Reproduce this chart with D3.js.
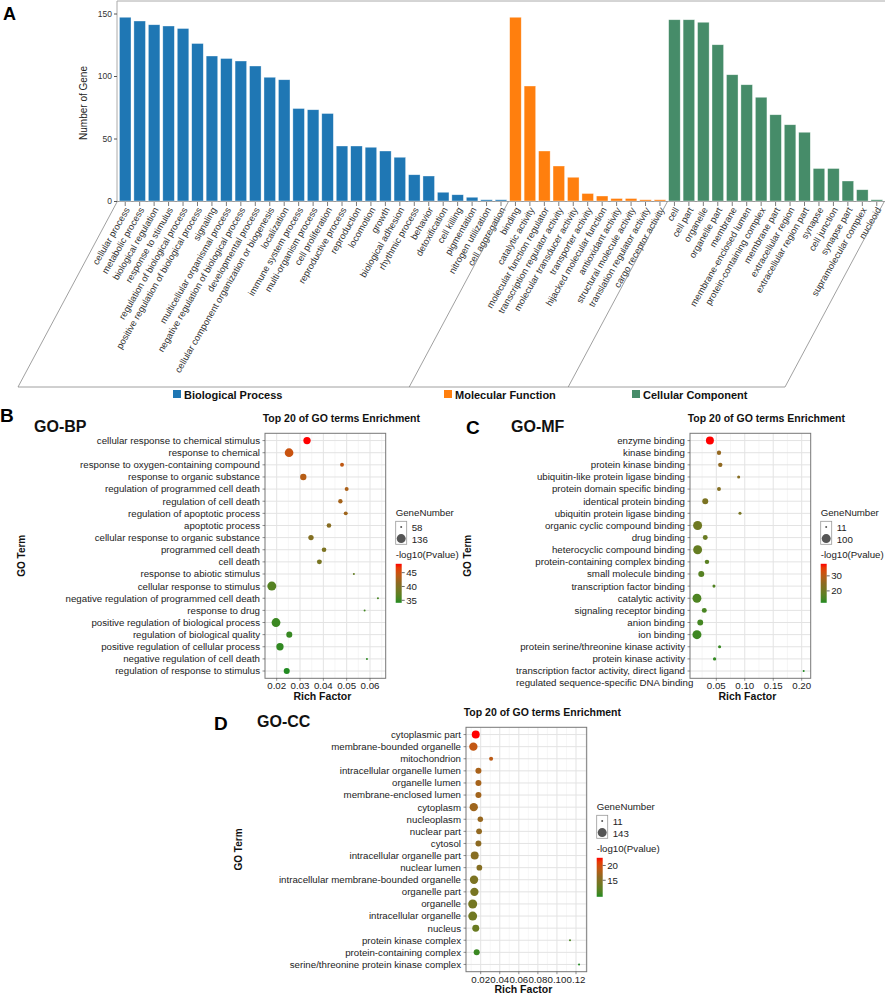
<!DOCTYPE html>
<html>
<head>
<meta charset="utf-8">
<title>GO classification and enrichment</title>
<script src="https://cdn.jsdelivr.net/npm/d3@7/dist/d3.min.js"></script>
<style>
  body { margin: 0; background: #fff; }
  svg { display: block; font-family: "Liberation Sans", Arial, sans-serif; }
</style>
</head>
<body>
<div id="chart"></div>
<script>
// ---- panel A: number of genes per GO category ----
var bpTerms = ["cellular process", "metabolic process", "biological regulation", "response to stimulus",
  "regulation of biological process", "positive regulation of biological process", "signaling",
  "multicellular organismal process", "negative regulation of biological process", "developmental process",
  "cellular component organization or biogenesis", "localization", "immune system process",
  "multi-organism process", "cell proliferation", "reproductive process", "reproduction", "locomotion",
  "growth", "biological adhesion", "rhythmic process", "behavior", "detoxification", "cell killing",
  "pigmentation", "nitrogen utilization", "cell aggregation"];
var bpCounts = [147, 144, 141, 140, 138, 126, 116, 114, 112, 108, 99, 97, 74, 73, 70, 44, 44, 43, 40, 35, 21, 20, 7, 5, 3, 1, 1];

var mfTerms = ["binding", "catalytic activity", "molecular function regulator", "transcription regulator activity",
  "molecular transducer activity", "transporter activity", "hijacked molecular function", "antioxidant activity",
  "structural molecule activity", "translation regulator activity", "cargo receptor activity"];
var mfCounts = [147, 92, 40, 28, 19, 6, 4, 2, 2, 1, 1];

var ccTerms = ["cell", "cell part", "organelle", "organelle part", "membrane", "membrane-enclosed lumen",
  "protein-containing complex", "membrane part", "extracellular region", "extracellular region part",
  "synapse", "cell junction", "synapse part", "supramolecular complex", "nucleoid"];
var ccCounts = [145, 145, 143, 125, 101, 93, 83, 69, 61, 55, 26, 26, 16, 9, 1];

var groupNames = ["Biological Process", "Molecular Function", "Cellular Component"];
var countTicks = [0, 50, 100, 150];

// ---- panel B: GO-BP top 20 ----
var bpTopTerms = ["cellular response to chemical stimulus", "response to chemical",
  "response to oxygen-containing compound", "response to organic substance",
  "regulation of programmed cell death", "regulation of cell death", "regulation of apoptotic process",
  "apoptotic process", "cellular response to organic substance", "programmed cell death", "cell death",
  "response to abiotic stimulus", "cellular response to stimulus",
  "negative regulation of programmed cell death", "response to drug",
  "positive regulation of biological process", "regulation of biological quality",
  "positive regulation of cellular process", "negative regulation of cell death",
  "regulation of response to stimulus"];
var bpRich = [0.0330, 0.0253, 0.0480, 0.0314, 0.0500, 0.0473, 0.0496, 0.0424, 0.0347, 0.0403,
  0.0383, 0.0531, 0.0179, 0.0634, 0.0577, 0.0197, 0.0254, 0.0214, 0.0587, 0.0243];
var bpGenes = [103, 129, 64, 88, 64, 67, 64, 69, 76, 69, 72, 58, 136, 58, 58, 132, 84, 103, 58, 84];
var bpLogP = [48.2, 44.8, 44.2, 43.6, 43.0, 42.6, 42.2, 40.6, 40.2, 39.6, 39.2, 37.4, 36.4, 35.6, 35.3,
  35.0, 34.8, 34.6, 34.4, 34.1];
var bpRichTicks = [0.02, 0.03, 0.04, 0.05, 0.06];
var bpSizeBreaks = [58, 136];
var bpColorTicks = [35, 40, 45];

// ---- panel C: GO-MF top 20 ----
var mfTopTerms = ["enzyme binding", "kinase binding", "protein kinase binding",
  "ubiquitin-like protein ligase binding", "protein domain specific binding", "identical protein binding",
  "ubiquitin protein ligase binding", "organic cyclic compound binding", "drug binding",
  "heterocyclic compound binding", "protein-containing complex binding", "small molecule binding",
  "transcription factor binding", "catalytic activity", "signaling receptor binding", "anion binding",
  "ion binding", "protein serine/threonine kinase activity", "protein kinase activity",
  "transcription factor activity, direct ligand\nregulated sequence-specific DNA binding"];
var mfRich = [0.0388, 0.0547, 0.0570, 0.0893, 0.0547, 0.0306, 0.0916, 0.0172, 0.0306, 0.0172,
  0.0336, 0.0236, 0.0459, 0.0160, 0.0289, 0.0218, 0.0160, 0.0558, 0.0470, 0.2035];
var mfGenes = [76, 21, 21, 13, 18, 40, 13, 100, 27, 98, 22, 40, 13, 97, 27, 38, 100, 13, 14, 11];
var mfLogP = [38.0, 26.0, 25.5, 24.0, 23.5, 22.0, 21.5, 20.0, 19.0, 18.5, 17.0, 16.5, 16.0, 15.5, 15.0,
  14.5, 14.0, 13.5, 13.0, 12.1];
var mfRichTicks = [0.05, 0.10, 0.15, 0.20];
var mfSizeBreaks = [11, 100];
var mfColorTicks = [20, 30];

// ---- panel D: GO-CC top 20 ----
var ccTopTerms = ["cytoplasmic part", "membrane-bounded organelle", "mitochondrion",
  "intracellular organelle lumen", "organelle lumen", "membrane-enclosed lumen", "cytoplasm",
  "nucleoplasm", "nuclear part", "cytosol", "intracellular organelle part", "nuclear lumen",
  "intracellular membrane-bounded organelle", "organelle part", "organelle", "intracellular organelle",
  "nucleus", "protein kinase complex", "protein-containing complex",
  "serine/threonine protein kinase complex"];
var ccRich = [0.0148, 0.0123, 0.0309, 0.0176, 0.0176, 0.0176, 0.0127, 0.0196, 0.0183, 0.0176,
  0.0137, 0.0186, 0.0130, 0.0134, 0.0116, 0.0116, 0.0148, 0.1137, 0.0158, 0.1232];
var ccGenes = [107, 119, 22, 54, 54, 54, 119, 44, 50, 52, 107, 48, 120, 118, 143, 140, 78, 11, 55, 11];
var ccLogP = [22.6, 19.0, 18.6, 17.6, 17.4, 17.2, 17.0, 16.6, 16.3, 16.0, 15.5, 15.3, 14.5, 14.2, 13.8,
  13.5, 13.0, 11.0, 10.2, 9.4];
var ccRichTicks = [0.02, 0.04, 0.06, 0.08, 0.10, 0.12];
var ccSizeBreaks = [11, 143];
var ccColorTicks = [15, 20];

var svg = d3.select("#chart").append("svg")
  .attr("width", 886).attr("height", 995);

// ================= Panel A =================
var groupColors = ["#1F77B4", "#FF7F0E", "#468C69"];
var allTerms = bpTerms.concat(mfTerms, ccTerms);
var allCounts = bpCounts.concat(mfCounts, ccCounts);
var nBP = bpTerms.length, nMF = mfTerms.length;
function groupOf(i) { return i < nBP ? 0 : (i < nBP + nMF ? 1 : 2); }

var xA = d3.scaleBand().domain(allTerms).range([118, 884]).paddingInner(0.2).paddingOuter(0.1);
var yA = d3.scaleLinear().domain([0, 160]).range([201, 1]);
var gA = svg.append("g");

// frame
gA.append("path").attr("d", "M117,202V1H885").attr("fill", "none").attr("stroke", "#aaa").attr("stroke-width", 1);
gA.append("line").attr("x1", 117).attr("x2", 885).attr("y1", 201.5).attr("y2", 201.5)
  .attr("stroke", "#999").attr("stroke-width", 1);

gA.selectAll("rect.bar").data(allCounts).enter().append("rect")
  .attr("class", "bar")
  .attr("x", function(d, i) { return xA(allTerms[i]); })
  .attr("y", function(d) { return yA(d); })
  .attr("width", xA.bandwidth())
  .attr("height", function(d) { return yA(0) - yA(d); })
  .attr("fill", function(d, i) { return groupColors[groupOf(i)]; })
  .attr("stroke", "rgba(255,255,255,0.6)").attr("stroke-width", 0.6);

// y axis
var yAxisA = gA.append("g").attr("transform", "translate(117,0)")
  .call(d3.axisLeft(yA).tickValues(countTicks).tickSize(3).tickPadding(2));
yAxisA.select(".domain").remove();
yAxisA.attr("font-family", null).attr("font-size", 8.5);
yAxisA.selectAll("text").attr("fill", "#333");
yAxisA.selectAll("line").attr("stroke", "#555");

gA.append("text").attr("transform", "translate(87,103) rotate(-90)")
  .attr("text-anchor", "middle").attr("font-size", 10).attr("fill", "#222")
  .text("Number of Gene");

// x ticks and rotated labels
allTerms.forEach(function(t) {
  var cx = xA(t) + xA.bandwidth() / 2;
  gA.append("line").attr("x1", cx).attr("x2", cx).attr("y1", 202).attr("y2", 206)
    .attr("stroke", "#444").attr("stroke-width", 0.7);
  gA.append("text")
    .attr("transform", "translate(" + (cx + 2) + ",208) rotate(-60)")
    .attr("text-anchor", "end").attr("dy", "0.35em")
    .attr("font-size", 9.3).attr("fill", "#333")
    .text(t);
});

// group outline (slanted brackets down to legend)
var step = xA.step();
var bounds = [117, xA(mfTerms[0]) - step * 0.1, xA(ccTerms[0]) - step * 0.1, 884];
bounds.forEach(function(b) {
  gA.append("line").attr("x1", b).attr("y1", 202).attr("x2", b - 99).attr("y2", 387)
    .attr("stroke", "#888").attr("stroke-width", 0.8);
});
gA.append("line").attr("x1", bounds[0] - 99).attr("x2", bounds[3] - 99).attr("y1", 387).attr("y2", 387)
  .attr("stroke", "#888").attr("stroke-width", 0.8);

var legendX = [173, 444, 632];
groupNames.forEach(function(n, i) {
  gA.append("rect").attr("x", legendX[i]).attr("y", 390).attr("width", 8).attr("height", 8)
    .attr("fill", groupColors[i]);
  gA.append("text").attr("x", legendX[i] + 11).attr("y", 398.5)
    .attr("font-size", 11).attr("font-weight", "bold").attr("fill", "#111").text(n);
});

// ================= Dot panels =================
function dotPanel(p) {
  var g = svg.append("g");
  var x0 = p.box[0], y0 = p.box[1], x1 = p.box[2], y1 = p.box[3];
  var x = d3.scaleLinear().domain([p.ticks[0], p.ticks[p.ticks.length - 1]]).range(p.tickPx);
  var y = d3.scalePoint().domain(p.terms).range([y0, y1]).padding(0.6);
  var ext = d3.extent(p.logP);
  var color = d3.scaleLinear().domain([ext[0], (ext[0] + ext[1]) / 2, ext[1]])
    .range(["forestgreen", "#8C6A22", "red"]).interpolate(d3.interpolateLab);
  var norm = d3.scaleLinear().domain(p.sizeBreaks).range([0, 1]).clamp(true);
  var rad = d3.scaleSqrt().domain([0, 1]).range([1, 4.5]);

  g.append("rect").attr("x", x0).attr("y", y0).attr("width", x1 - x0).attr("height", y1 - y0)
    .attr("fill", "#fff");

  // grid
  var st = p.ticks[1] - p.ticks[0];
  var minor = p.ticks.map(function(t) { return t - st / 2; }).concat([p.ticks[p.ticks.length - 1] + st / 2])
    .filter(function(v) { return x(v) > x0 + 0.5 && x(v) < x1 - 0.5; });
  minor.forEach(function(v) {
    g.append("line").attr("x1", x(v)).attr("x2", x(v)).attr("y1", y0).attr("y2", y1)
      .attr("stroke", "#f0f0f0").attr("stroke-width", 0.6);
  });
  p.ticks.forEach(function(v) {
    g.append("line").attr("x1", x(v)).attr("x2", x(v)).attr("y1", y0).attr("y2", y1)
      .attr("stroke", "#e3e3e3").attr("stroke-width", 1);
  });
  p.terms.forEach(function(t) {
    g.append("line").attr("x1", x0).attr("x2", x1).attr("y1", y(t)).attr("y2", y(t))
      .attr("stroke", "#e3e3e3").attr("stroke-width", 1);
  });

  // points
  p.terms.forEach(function(t, i) {
    g.append("circle").attr("cx", x(p.rich[i])).attr("cy", y(t))
      .attr("r", rad(norm(p.genes[i])))
      .attr("fill", color(p.logP[i]));
  });

  g.append("rect").attr("x", x0).attr("y", y0).attr("width", x1 - x0).attr("height", y1 - y0)
    .attr("fill", "none").attr("stroke", "#777").attr("stroke-width", 1);

  // y labels
  p.terms.forEach(function(t) {
    g.append("line").attr("x1", x0 - 2.5).attr("x2", x0).attr("y1", y(t)).attr("y2", y(t))
      .attr("stroke", "#444").attr("stroke-width", 0.6);
    var lines = t.split("\n");
    var first = g.append("text").attr("x", x0 - 5).attr("y", y(t)).attr("dy", "0.35em")
      .attr("text-anchor", "end").attr("font-size", 9.7).attr("fill", "#222").text(lines[0]);
    if (lines.length > 1) {
      var left = x0 - 5 - first.node().getComputedTextLength();
      g.append("text").attr("x", left).attr("y", y(t) + 11.8).attr("dy", "0.35em")
        .attr("font-size", 9.7).attr("fill", "#222").text(lines[1]);
    }
  });

  // x ticks
  var fmt = d3.format(".2f");
  p.ticks.forEach(function(v) {
    g.append("line").attr("x1", x(v)).attr("x2", x(v)).attr("y1", y1).attr("y2", y1 + 2.5)
      .attr("stroke", "#444").attr("stroke-width", 0.6);
    g.append("text").attr("x", x(v)).attr("y", y1 + 7.5).attr("dy", "0.35em")
      .attr("text-anchor", "middle").attr("font-size", 9.7).attr("fill", "#222").text(fmt(v));
  });

  var cx = (x0 + x1) / 2;
  g.append("text").attr("x", cx - 3).attr("y", y1 + 21.5).attr("text-anchor", "middle")
    .attr("font-size", 10.5).attr("font-weight", "bold").attr("fill", "#111").text("Rich Factor");
  g.append("text").attr("x", cx + 16).attr("y", y0 - 11).attr("text-anchor", "middle")
    .attr("font-size", 10.5).attr("font-weight", "bold").attr("fill", "#111").text("Top 20 of GO terms Enrichment");
  g.append("text").attr("transform", "translate(" + p.yTitleX + "," + ((y0 + y1) / 2) + ") rotate(-90)")
    .attr("text-anchor", "middle").attr("dy", "0.35em")
    .attr("font-size", 10).attr("font-weight", "bold").attr("fill", "#111").text("GO Term");

  // legends
  var lx = x1 + 10;
  g.append("text").attr("x", lx).attr("y", y0 + 79.5).attr("dy", "0.35em")
    .attr("font-size", 9.7).attr("fill", "#222").text("GeneNumber");
  g.append("rect").attr("x", lx).attr("y", y0 + 88).attr("width", 11).attr("height", 23)
    .attr("fill", "#fff").attr("stroke", "#999").attr("stroke-width", 0.8);
  p.sizeBreaks.forEach(function(b, k) {
    var cy = y0 + 93.7 + k * 11.6;
    g.append("circle").attr("cx", lx + 5.5).attr("cy", cy).attr("r", rad(norm(b))).attr("fill", "#555");
    g.append("text").attr("x", lx + 16).attr("y", cy + 1).attr("dy", "0.35em")
      .attr("font-size", 9.7).attr("fill", "#222").text(b);
  });
  g.append("text").attr("x", lx).attr("y", y0 + 121.5).attr("dy", "0.35em")
    .attr("font-size", 9.7).attr("fill", "#222").text("-log10(Pvalue)");

  var barTop = y0 + 130.5, barH = 39;
  var gid = "grad" + p.id;
  var grad = svg.append("defs").append("linearGradient").attr("id", gid)
    .attr("x1", 0).attr("y1", 1).attr("x2", 0).attr("y2", 0);
  d3.range(0, 1.0001, 0.1).forEach(function(s) {
    grad.append("stop").attr("offset", s).attr("stop-color", color(ext[0] + s * (ext[1] - ext[0])));
  });
  g.append("rect").attr("x", lx).attr("y", barTop).attr("width", 6).attr("height", barH)
    .attr("fill", "url(#" + gid + ")");
  var cb = d3.scaleLinear().domain(ext).range([barTop + barH, barTop]);
  p.colorTicks.forEach(function(v) {
    g.append("line").attr("x1", lx + 6).attr("x2", lx + 9).attr("y1", cb(v)).attr("y2", cb(v))
      .attr("stroke", "#444").attr("stroke-width", 0.8);
    g.append("text").attr("x", lx + 10.5).attr("y", cb(v)).attr("dy", "0.35em")
      .attr("font-size", 9.7).attr("fill", "#222").text(v);
  });
}

dotPanel({ id: "B", box: [265, 433.3, 385.7, 678.3], ticks: bpRichTicks, tickPx: [276.7, 370],
  terms: bpTopTerms, rich: bpRich, genes: bpGenes, logP: bpLogP,
  sizeBreaks: bpSizeBreaks, colorTicks: bpColorTicks, yTitleX: 21 });
dotPanel({ id: "C", box: [690, 433.3, 810.7, 678.3], ticks: mfRichTicks, tickPx: [716.3, 801.7],
  terms: mfTopTerms, rich: mfRich, genes: mfGenes, logP: mfLogP,
  sizeBreaks: mfSizeBreaks, colorTicks: mfColorTicks, yTitleX: 467 });
dotPanel({ id: "D", box: [466, 727.3, 586.7, 971.7], ticks: ccRichTicks, tickPx: [480.7, 576],
  terms: ccTopTerms, rich: ccRich, genes: ccGenes, logP: ccLogP,
  sizeBreaks: ccSizeBreaks, colorTicks: ccColorTicks, yTitleX: 238 });

// panel letters and sub titles
[["A", 3, 20, 18], ["B", 0, 422, 19], ["C", 466, 434, 19], ["D", 214, 730, 19]].forEach(function(l) {
  svg.append("text").attr("x", l[1]).attr("y", l[2]).attr("font-size", l[3])
    .attr("font-weight", "bold").attr("fill", "#000").text(l[0]);
});
[["GO-BP", 34, 432], ["GO-MF", 511, 432], ["GO-CC", 257, 727]].forEach(function(l) {
  svg.append("text").attr("x", l[1]).attr("y", l[2]).attr("font-size", 16)
    .attr("font-weight", "bold").attr("fill", "#111").text(l[0]);
});
</script>
</body>
</html>
